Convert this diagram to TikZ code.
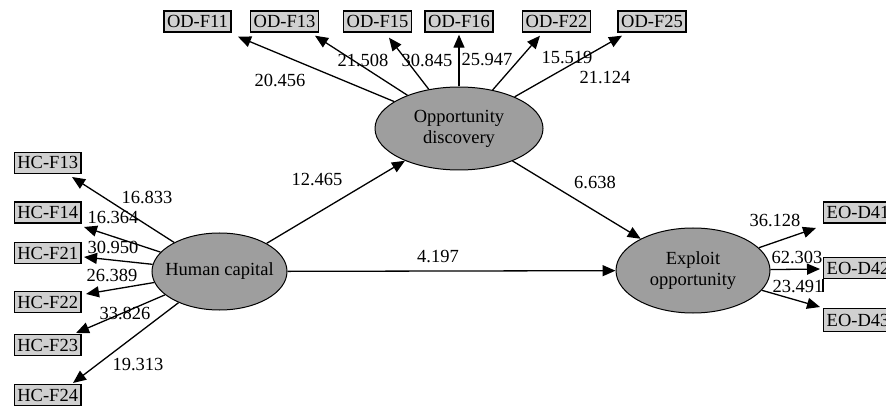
\documentclass[tikz,border=0pt]{standalone}
\usepackage{fontspec}
\setmainfont{Liberation Serif}
\usetikzlibrary{shapes.geometric,arrows.meta}
\definecolor{boxfill}{RGB}{208,208,208}
\definecolor{ellfill}{RGB}{158,158,158}
\tikzset{
  ind/.style={draw=black,line width=1.4pt,fill=boxfill,inner xsep=3pt,inner ysep=0pt,
    minimum height=21pt,text height=12.5pt,text depth=0.5pt,font=\fontsize{18.5}{21}\selectfont},
  lat/.style={ellipse,draw=black,line width=1pt,fill=ellfill,inner sep=0pt},
  lattext/.style={align=center,font=\fontsize{18.5}{21}\selectfont},
  num/.style={font=\fontsize{18.5}{21}\selectfont,inner sep=0pt},
  arr/.style={line width=1.3pt,-{Triangle[length=13pt,width=11pt]}}
}
\begin{document}
\begin{tikzpicture}[x=1pt,y=-1pt]
\useasboundingbox (0,0) rectangle (886,414);
% latent variables
\node[lat,minimum width=168pt,minimum height=83pt] (od) at (459,128.5) {};
\node[lattext] (odt) at (od) {Opportunity\\discovery};
\node[lat,minimum width=135pt,minimum height=77pt] (hc) at (219.5,271.5) {};
\node[lattext] (hct) at (hc) {Human capital};
\node[lat,minimum width=154pt,minimum height=85pt] (eo) at (693,270.5) {};
\node[lattext] (eot) at (eo) {Exploit\\opportunity};
% OD indicators
\node[ind] (odf11) at (197.5,21.5) {OD-F11};
\node[ind] (odf13) at (284.5,21.5) {OD-F13};
\node[ind] (odf15) at (377.5,21.5) {OD-F15};
\node[ind] (odf16) at (459,21.5) {OD-F16};
\node[ind] (odf22) at (556.5,21.5) {OD-F22};
\node[ind] (odf25) at (652,21.5) {OD-F25};
% HC indicators
\node[ind] (hcf13) at (47.7,163) {HC-F13};
\node[ind] (hcf14) at (47.7,212.5) {HC-F14};
\node[ind] (hcf21) at (47.7,253) {HC-F21};
\node[ind] (hcf22) at (47.7,302) {HC-F22};
\node[ind] (hcf23) at (47.7,345) {HC-F23};
\node[ind] (hcf24) at (47.7,395) {HC-F24};
% EO indicators
\node[ind,anchor=west] (eod41) at (823,212.5) {EO-D41};
\node[ind,anchor=west] (eod42) at (823,268) {EO-D42};
\node[ind,anchor=west,minimum height=23pt] (eod43) at (823,320) {EO-D43};
\draw[line width=1.2pt] (eod42.south west) -- ++(0,13);
% structural paths
\draw[arr] (hc) -- (od);
\draw[arr] (hc) -- (eo);
\draw[arr] (od) -- (eo);
% OD loadings
\draw[arr] (od) -- ([shift={(40.5,4)}]odf11.south);
\draw[arr] (od) -- ([shift={(30.5,3)}]odf13.south);
\draw[arr] (od) -- ([shift={(11.5,5)}]odf15.south);
\draw[arr] (od) -- ([shift={(0,2)}]odf16.south);
\draw[arr] (od) -- ([shift={(-16.5,3)}]odf22.south);
\draw[arr] (od) -- ([shift={(-30,3)}]odf25.south);
% HC loadings
\draw[arr] (hc) -- ([shift={(-9.7,14)}]hcf13.east);
\draw[arr] (hc) -- ([shift={(2.3,14.5)}]hcf14.east);
\draw[arr] (hc) -- ([shift={(2.3,4)}]hcf21.east);
\draw[arr] (hc) -- ([shift={(4.3,-8)}]hcf22.east);
\draw[arr] (hc) -- ([shift={(-5.7,-12)}]hcf23.east);
\draw[arr] (hc) -- ([shift={(-8.7,-12)}]hcf24.east);
% EO loadings
\draw[arr] (eo) -- ([shift={(-7,15.5)}]eod41.west);
\draw[arr] (eo) -- ([shift={(-3,1)}]eod42.west);
\draw[arr] (eo) -- ([shift={(-3,-13)}]eod43.west);
% numbers
\node[num] (n1) at (280,80) {20.456};
\node[num] (n2) at (363,60) {21.508};
\node[num] (n3) at (427,60) {30.845};
\node[num] (n4) at (487,60) {25.947};
\node[num] (n5) at (567,58) {15.519};
\node[num] (n6) at (605,78) {21.124};
\node[num] (n7) at (317,180) {12.465};
\node[num] (n8) at (595,182) {6.638};
\node[num] (n9) at (438,257) {4.197};
\node[num] (n10) at (147,197) {16.833};
\node[num] (n11) at (113,218) {16.364};
\node[num] (n12) at (113,247) {30.950};
\node[num] (n13) at (112,275) {26.389};
\node[num] (n14) at (125,313) {33.826};
\node[num] (n15) at (138,365) {19.313};
\node[num] (n16) at (775,220) {36.128};
\node[num] (n17) at (797,257) {62.303};
\node[num] (n18) at (798,287) {23.491};
\end{tikzpicture}
\end{document}
